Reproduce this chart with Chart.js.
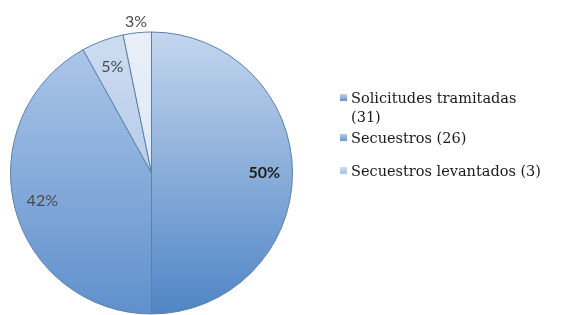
<!DOCTYPE html>
<html>
<head>
<meta charset="utf-8">
<script src="https://cdn.jsdelivr.net/npm/chart.js@4.4.0/dist/chart.umd.min.js"></script>
<style>
  html, body { margin: 0; padding: 0; background: #fff; }
  #wrap { width: 570px; height: 315px; position: relative; }
</style>
</head>
<body>
<div id="wrap"><canvas id="pieChart"></canvas></div>
<script>
// datos del gráfico
const categorias = ["Solicitudes tramitadas (31)", "Secuestros (26)", "Secuestros levantados (3)", ""];
const valores = [31, 26, 3, 2];
const etiquetasPct = ["50%", "42%", "5%", "3%"];
// líneas de la leyenda (la primera se corta en dos)
const lineasLeyenda = [["Solicitudes tramitadas", "(31)"], ["Secuestros (26)"], ["Secuestros levantados (3)"]];

const coloresArriba = ["#c4d6ee", "#b0c9ea", "#cddcf0", "#e8eff8"];
const coloresAbajo = ["#4f85c5", "#5f90cc", "#a3bee2", "#d3e0f1"];

function degradado(ctx) {
  const chart = ctx.chart;
  const area = chart.chartArea;
  if (!area) return coloresAbajo[ctx.dataIndex];
  const g = chart.ctx.createLinearGradient(0, area.top, 0, area.bottom);
  g.addColorStop(0, coloresArriba[ctx.dataIndex]);
  g.addColorStop(1, coloresAbajo[ctx.dataIndex]);
  return g;
}

// etiquetas de porcentaje sobre los sectores
const pluginPorcentajes = {
  id: "porcentajes",
  afterDatasetsDraw(chart) {
    const ctx = chart.ctx;
    const meta = chart.getDatasetMeta(0);
    const total = valores.reduce((a, b) => a + b, 0);
    ctx.save();
    ctx.textAlign = "center";
    ctx.textBaseline = "middle";
    meta.data.forEach(function (arc, i) {
      const p = arc.getProps(["x", "y", "startAngle", "endAngle", "outerRadius"], true);
      const medio = (p.startAngle + p.endAngle) / 2;
      const frac = valores[i] / total;
      const r = frac < 0.04 ? p.outerRadius * 1.08 : p.outerRadius * 0.8;
      const x = p.x + Math.cos(medio) * r;
      const y = p.y + Math.sin(medio) * r;
      ctx.font = (i === 0 ? "bold " : "") + "16px Lato, 'Open Sans', sans-serif";
      ctx.fillStyle = i === 0 ? "#1e1e1e" : "#4a4a4a";
      ctx.fillText(etiquetasPct[i], x, y);
    });
    ctx.restore();
  }
};

// leyenda dibujada a mano (texto con salto de línea)
const pluginLeyenda = {
  id: "leyendaManual",
  afterDraw(chart) {
    const ctx = chart.ctx;
    ctx.save();
    ctx.font = "14.5px 'DejaVu Serif', 'Liberation Serif', serif";
    ctx.textBaseline = "middle";
    const xCuadro = 340, xTexto = 351;
    const yInicio = [99, 139, 172];
    lineasLeyenda.forEach(function (lineas, i) {
      const y = yInicio[i];
      const g = ctx.createLinearGradient(0, y - 5, 0, y + 3);
      g.addColorStop(0, coloresArriba[i]);
      g.addColorStop(1, coloresAbajo[i]);
      ctx.fillStyle = g;
      ctx.fillRect(xCuadro, y - 5, 7, 7);
      ctx.fillStyle = "#1a1a1a";
      lineas.forEach(function (t, j) {
        ctx.fillText(t, xTexto, y + j * 19);
      });
    });
    ctx.restore();
  }
};

new Chart(document.getElementById("pieChart"), {
  type: "pie",
  data: {
    labels: categorias,
    datasets: [{
      data: valores,
      backgroundColor: degradado,
      borderColor: "#5d7fa8",
      borderWidth: 1
    }]
  },
  options: {
    responsive: true,
    maintainAspectRatio: false,
    animation: false,
    layout: { padding: { left: 10, top: 31, right: 277, bottom: 0 } },
    plugins: {
      legend: { display: false },
      tooltip: { enabled: false }
    }
  },
  plugins: [pluginPorcentajes, pluginLeyenda]
});
</script>
</body>
</html>
